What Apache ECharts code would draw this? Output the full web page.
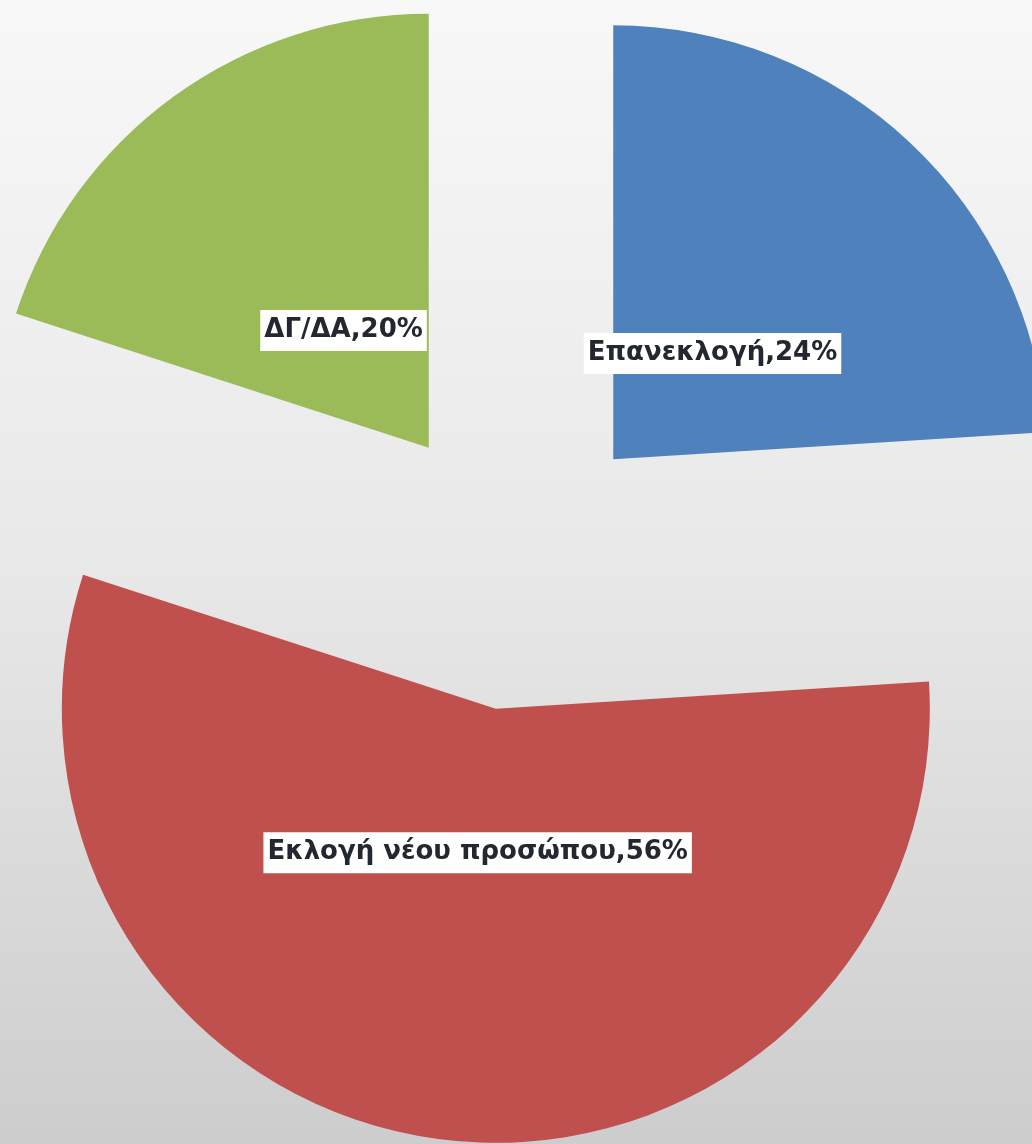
<!DOCTYPE html>
<html>
  <head>
    <meta charset="utf-8" />
    <title>ECharts</title>
    <script src="https://cdn.jsdelivr.net/npm/echarts@6/dist/echarts.min.js"></script>
    <style>
      html, body { margin: 0; padding: 0; }
    </style>
  </head>
  <body>
    <div id="main" style="width: 1032px;height:1144px;"></div>
    <script type="text/javascript">
      var categories = ['Επανεκλογή', 'Εκλογή νέου προσώπου', 'ΔΓ/ΔΑ'];
      var values = [24, 56, 20];
      var palette = ['#4F81BD', '#C0504D', '#9BBB59'];

      var myChart = echarts.init(document.getElementById('main'));

      // slices (all exploded)
      var sliceData = categories.map(function (name, i) {
        return { name: name, value: values[i], selected: true, itemStyle: { color: palette[i] } };
      });
      // same slices with a smaller radius, only to carry the labels closer to the tip
      var labelData = categories.map(function (name, i) {
        return { name: name, value: values[i], selected: true };
      });

      var center = [514, 565];
      var offset = 145;

      var option = {
        backgroundColor: new echarts.graphic.LinearGradient(0, 0, 0, 1, [
          { offset: 0, color: '#f8f8f8' },
          { offset: 0.5, color: '#e8e8e8' },
          { offset: 1, color: '#cdcdcd' }
        ]),
        animation: false,
        series: [
          {
            name: 'slices',
            type: 'pie',
            center: center,
            radius: 434,
            startAngle: 90,
            clockwise: true,
            selectedMode: 'multiple',
            selectedOffset: offset,
            avoidLabelOverlap: false,
            label: { show: false },
            labelLine: { show: false },
            silent: true,
            data: sliceData
          },
          {
            name: 'labels',
            type: 'pie',
            center: center,
            radius: 284,
            startAngle: 90,
            clockwise: true,
            selectedMode: 'multiple',
            selectedOffset: offset,
            avoidLabelOverlap: false,
            silent: true,
            itemStyle: { color: 'rgba(0,0,0,0)' },
            labelLine: { show: false },
            // v6 hides the narrow slice's label otherwise
            labelLayout: { hideOverlap: false },
            label: {
              show: true,
              position: 'inside',
              formatter: function (p) { return p.name + ',' + p.value + '%'; },
              fontFamily: 'DejaVu Sans',
              fontWeight: 'bold',
              fontSize: 26,
              color: '#232730',
              backgroundColor: '#ffffff',
              padding: [8, 4, 7, 4]
            },
            data: labelData
          }
        ]
      };

      myChart.setOption(option);
    </script>
  </body>
</html>
